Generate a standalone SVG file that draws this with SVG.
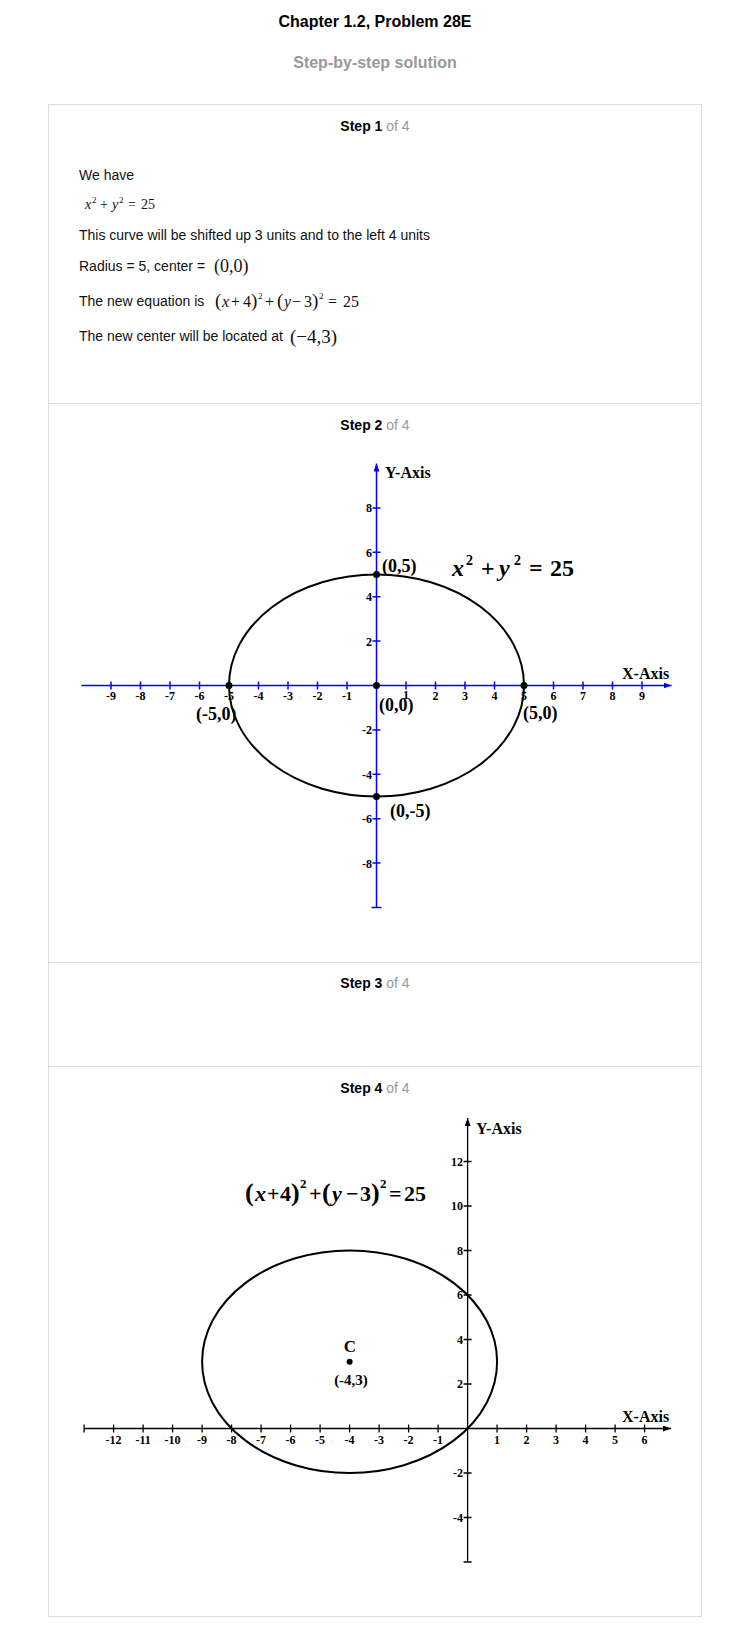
<svg xmlns="http://www.w3.org/2000/svg" width="752" height="1644" viewBox="0 0 752 1644">
<style>
.sans{font-family:"Liberation Sans",Arial,sans-serif}
.title{font-family:"Liberation Sans",Arial,sans-serif;font-weight:bold;font-size:16px;text-anchor:middle}
.step{font-family:"Liberation Sans",Arial,sans-serif;font-size:14px;text-anchor:middle}
.gray{fill:#999}
.body{font-family:"Liberation Sans",Arial,sans-serif;font-size:14px;fill:#111}
.math{font-family:"Liberation Serif","Times New Roman",serif;fill:#111}
.it{font-style:italic}
.gl{font-family:"Liberation Serif","Times New Roman",serif;font-weight:bold;fill:#000}
.tk{font-size:12px;text-anchor:middle}
.tky{font-size:12px;text-anchor:end}
.pt{font-size:18px}
.ax{font-size:16px}
.blue{stroke:#0000ff;stroke-width:1.5;fill:none}
.blk{stroke:#000;stroke-width:1.3;fill:none}
.curve{stroke:#000;stroke-width:2;fill:none}
.sep{stroke:#dddddd;stroke-width:1}
</style>
<defs>
<marker id="arB" markerWidth="8" markerHeight="6" refX="8" refY="3" orient="auto" markerUnits="userSpaceOnUse"><path d="M0,0 L8,3 L0,6 z" fill="#0000ff"/></marker>
<marker id="arK" markerWidth="8" markerHeight="6" refX="8" refY="3" orient="auto" markerUnits="userSpaceOnUse"><path d="M0,0 L8,3 L0,6 z" fill="#000"/></marker>
</defs>
<rect width="752" height="1644" fill="#fff"/>

<g id="header">
<text class="title" x="375" y="27" fill="#000">Chapter 1.2, Problem 28E</text>
<text class="title gray" x="375" y="68">Step-by-step solution</text>
</g>

<g id="frame">
<rect x="48.5" y="104.5" width="653" height="1512" fill="none" stroke="#dddddd"/>
<line class="sep" x1="48.5" y1="403.5" x2="701.5" y2="403.5"/>
<line class="sep" x1="48.5" y1="962.5" x2="701.5" y2="962.5"/>
<line class="sep" x1="48.5" y1="1066.5" x2="701.5" y2="1066.5"/>
</g>

<g id="step1">
<text class="step" x="375" y="131"><tspan font-weight="bold" fill="#000">Step 1</tspan><tspan class="gray"> of 4</tspan></text>
<text class="body" x="79" y="180">We have</text>
<text class="math" y="209" font-size="14"><tspan class="it" x="85">x</tspan><tspan x="92" dy="-6" font-size="9">2</tspan><tspan x="100" dy="6">+</tspan><tspan class="it" x="112">y</tspan><tspan x="119" dy="-6" font-size="9">2</tspan><tspan x="128" dy="6">=</tspan><tspan x="141">25</tspan></text>
<text class="body" x="79" y="240">This curve will be shifted up 3 units and to the left 4 units</text>
<text class="body" x="79" y="271">Radius = 5, center = </text>
<text class="math" x="214" y="272" font-size="18">(0,0)</text>
<text class="body" x="79" y="306">The new equation is </text>
<text class="math" y="307" font-size="16"><tspan x="215" font-size="19">(</tspan><tspan class="it" x="222">x</tspan><tspan x="231">+</tspan><tspan x="243">4</tspan><tspan x="251" font-size="19">)</tspan><tspan x="258" dy="-8" font-size="9">2</tspan><tspan x="265" dy="8">+</tspan><tspan x="277" font-size="19">(</tspan><tspan class="it" x="284">y</tspan><tspan x="292">−</tspan><tspan x="304">3</tspan><tspan x="312" font-size="19">)</tspan><tspan x="319" dy="-8" font-size="9">2</tspan><tspan x="328" dy="8">=</tspan><tspan x="343">25</tspan></text>
<text class="body" x="79" y="341">The new center will be located at </text>
<text class="math" x="290" y="343" font-size="19">(−4,3)</text>
</g>

<g id="step2">
<text class="step" x="375" y="430"><tspan font-weight="bold" fill="#000">Step 2</tspan><tspan class="gray"> of 4</tspan></text>
<g id="g1-axes">
<line class="blue" x1="376.5" y1="907.5" x2="376.5" y2="463.5" marker-end="url(#arB)"/>
<line class="blue" x1="81.5" y1="685.5" x2="671.5" y2="685.5" marker-end="url(#arB)"/>
<path class="blue" d="M111 681.5V689.5M140.5 681.5V689.5M170 681.5V689.5M199.5 681.5V689.5M229 681.5V689.5M258.5 681.5V689.5M288 681.5V689.5M317.5 681.5V689.5M347 681.5V689.5M406 681.5V689.5M435.5 681.5V689.5M465 681.5V689.5M494.5 681.5V689.5M524 681.5V689.5M553.5 681.5V689.5M583 681.5V689.5M612.5 681.5V689.5M642 681.5V689.5"/>
<path class="blue" d="M372.5 507.9H380.5M372.5 552.3H380.5M372.5 596.7H380.5M372.5 641.1H380.5M372.5 729.9H380.5M372.5 774.3H380.5M372.5 818.7H380.5M372.5 863.1H380.5M371.5 907.5H381.5"/>
</g>
<g id="g1-ticklabels" class="gl">
<text class="tk" x="111" y="700">-9</text><text class="tk" x="140.5" y="700">-8</text><text class="tk" x="170" y="700">-7</text><text class="tk" x="199.5" y="700">-6</text><text class="tk" x="229" y="700">-5</text><text class="tk" x="258.5" y="700">-4</text><text class="tk" x="288" y="700">-3</text><text class="tk" x="317.5" y="700">-2</text><text class="tk" x="347" y="700">-1</text>
<text class="tk" x="406" y="699">1</text><text class="tk" x="435.5" y="700">2</text><text class="tk" x="465" y="700">3</text><text class="tk" x="494.5" y="700">4</text><text class="tk" x="524" y="700">5</text><text class="tk" x="553.5" y="700">6</text><text class="tk" x="583" y="700">7</text><text class="tk" x="612.5" y="700">8</text><text class="tk" x="642" y="700">9</text>
<text class="tky" x="372" y="512">8</text><text class="tky" x="372" y="556.5">6</text><text class="tky" x="372" y="601">4</text><text class="tky" x="372" y="645.5">2</text><text class="tky" x="372" y="734">-2</text><text class="tky" x="372" y="778.5">-4</text><text class="tky" x="372" y="823">-6</text><text class="tky" x="372" y="867.5">-8</text>
</g>
<ellipse id="g1-circle" class="curve" cx="376.5" cy="685.5" rx="147.5" ry="111"/>
<g id="g1-points" fill="#000">
<circle cx="229" cy="685.5" r="3.5"/><circle cx="376.5" cy="685.5" r="3.5"/><circle cx="524" cy="685.5" r="3.5"/><circle cx="376.5" cy="574.5" r="3.5"/><circle cx="376.5" cy="796.5" r="3.5"/>
</g>
<g id="g1-labels" class="gl">
<text class="ax" x="385" y="478">Y-Axis</text>
<text class="ax" x="622" y="679">X-Axis</text>
<text class="pt" x="382" y="572">(0,5)</text>
<text class="pt" x="196" y="720">(-5,0)</text>
<text class="pt" x="379" y="711">(0,0)</text>
<text class="pt" x="523" y="719">(5,0)</text>
<text class="pt" x="390" y="817">(0,-5)</text>
<text font-size="24" y="576"><tspan class="it" x="452">x</tspan><tspan x="466" y="565" font-size="14">2</tspan><tspan x="481" y="576">+</tspan><tspan class="it" x="499">y</tspan><tspan x="514" y="565" font-size="14">2</tspan><tspan x="529" y="576">=</tspan><tspan x="550">25</tspan></text>
</g>
</g>

<g id="step3">
<text class="step" x="375" y="988"><tspan font-weight="bold" fill="#000">Step 3</tspan><tspan class="gray"> of 4</tspan></text>
</g>

<g id="step4">
<text class="step" x="375" y="1093"><tspan font-weight="bold" fill="#000">Step 4</tspan><tspan class="gray"> of 4</tspan></text>
<g id="g2-axes">
<line class="blk" x1="467.6" y1="1562" x2="467.6" y2="1118" marker-end="url(#arK)"/>
<line class="blk" x1="84.1" y1="1428.5" x2="671" y2="1428.5" marker-end="url(#arK)"/>
<path class="blk" d="M84.1 1424.5V1432.5M113.6 1424.5V1432.5M143.1 1424.5V1432.5M172.6 1424.5V1432.5M202.1 1424.5V1432.5M231.6 1424.5V1432.5M261.1 1424.5V1432.5M290.6 1424.5V1432.5M320.1 1424.5V1432.5M349.6 1424.5V1432.5M379.1 1424.5V1432.5M408.6 1424.5V1432.5M438.1 1424.5V1432.5M497.1 1424.5V1432.5M526.6 1424.5V1432.5M556.1 1424.5V1432.5M585.6 1424.5V1432.5M615.1 1424.5V1432.5M644.6 1424.5V1432.5"/>
<path class="blk" d="M463.6 1161.5H471.6M463.6 1206H471.6M463.6 1250.5H471.6M463.6 1295H471.6M463.6 1339.5H471.6M463.6 1384H471.6M463.6 1473H471.6M463.6 1517.5H471.6M463.6 1562H471.6"/>
</g>
<g id="g2-ticklabels" class="gl">
<text class="tk" x="113.6" y="1444">-12</text><text class="tk" x="143.1" y="1444">-11</text><text class="tk" x="172.6" y="1444">-10</text><text class="tk" x="202.1" y="1444">-9</text><text class="tk" x="231.6" y="1444">-8</text><text class="tk" x="261.1" y="1444">-7</text><text class="tk" x="290.6" y="1444">-6</text><text class="tk" x="320.1" y="1444">-5</text><text class="tk" x="349.6" y="1444">-4</text><text class="tk" x="379.1" y="1444">-3</text><text class="tk" x="408.6" y="1444">-2</text><text class="tk" x="438.1" y="1444">-1</text>
<text class="tk" x="497.1" y="1444">1</text><text class="tk" x="526.6" y="1444">2</text><text class="tk" x="556.1" y="1444">3</text><text class="tk" x="585.6" y="1444">4</text><text class="tk" x="615.1" y="1444">5</text><text class="tk" x="644.6" y="1444">6</text>
<text class="tky" x="463" y="1165.5">12</text><text class="tky" x="463" y="1210">10</text><text class="tky" x="463" y="1254.5">8</text><text class="tky" x="463" y="1299">6</text><text class="tky" x="463" y="1343.5">4</text><text class="tky" x="463" y="1388">2</text><text class="tky" x="463" y="1477">-2</text><text class="tky" x="463" y="1521.5">-4</text>
</g>
<ellipse id="g2-circle" class="curve" cx="349.6" cy="1361.75" rx="147.5" ry="111.25"/>
<circle id="g2-center" cx="349.6" cy="1361.75" r="3" fill="#000"/>
<g id="g2-labels" class="gl">
<text class="ax" x="476" y="1134">Y-Axis</text>
<text class="ax" x="622" y="1422">X-Axis</text>
<text x="350" y="1352" font-size="17" text-anchor="middle">C</text>
<text x="351" y="1385" font-size="15" text-anchor="middle">(-4,3)</text>
<text font-size="22" y="1201"><tspan x="245" font-size="26">(</tspan><tspan class="it" x="255">x</tspan><tspan x="267">+</tspan><tspan x="280">4</tspan><tspan x="291" font-size="26">)</tspan><tspan x="300" y="1188" font-size="13">2</tspan><tspan x="309" y="1201">+</tspan><tspan x="322" font-size="26">(</tspan><tspan class="it" x="332">y</tspan><tspan x="346">−</tspan><tspan x="360">3</tspan><tspan x="371" font-size="26">)</tspan><tspan x="380" y="1188" font-size="13">2</tspan><tspan x="389" y="1201">=</tspan><tspan x="404">25</tspan></text>
</g>
</g>
</svg>
